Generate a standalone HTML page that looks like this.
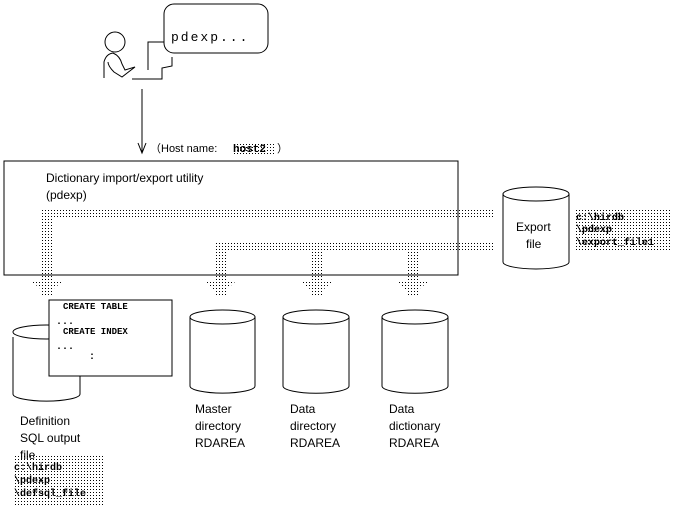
<!DOCTYPE html>
<html><head><meta charset="utf-8"><style>
body{margin:0;background:#fff;width:685px;height:511px;overflow:hidden}
svg{display:block}
text{font-family:"Liberation Sans",sans-serif;font-size:12px;fill:#000}
.m{font-family:"Liberation Mono",monospace;font-size:10px;font-weight:bold}
</style></head><body>
<svg width="685" height="511" viewBox="0 0 685 511">
<defs>
<pattern id="d" width="3" height="3" patternUnits="userSpaceOnUse"><rect width="1" height="1" fill="#000"/></pattern>
</defs>
<g fill="none" stroke="#000" stroke-width="1">
<circle cx="115" cy="42" r="10"/>
<path d="M104 78 V62 Q106 54 113 53 Q120 56 122 64 L125 70 L135 67 L122 77 L114 72 Q108 66 108 62"/>
<path d="M132 79 H162 V68 L172 66 V57"/>
<path d="M148 70 V42 H164"/>
<rect x="164" y="4" width="104" height="49" rx="10"/>
<path d="M142 89 V152 M138 143 L142 153 L146 143"/>
<rect x="4" y="161" width="454" height="114"/>
<path d="M13 337 V394 A33 7 0 0 0 80 394 V337"/><ellipse cx="46.5" cy="332" rx="33.5" ry="7"/>
<rect x="49" y="300" width="123" height="76" fill="#fff"/>
<path d="M190 317 V386 A32 7 0 0 0 255 386 V317"/><ellipse cx="222.5" cy="317" rx="32.5" ry="7"/>
<path d="M283 317 V386 A32 7 0 0 0 349 386 V317"/><ellipse cx="316" cy="317" rx="33" ry="7"/>
<path d="M382 317 V386 A32 7 0 0 0 448 386 V317"/><ellipse cx="415" cy="317" rx="33" ry="7"/>
<path d="M503 194 V262 A33 7 0 0 0 569 262 V194"/><ellipse cx="536" cy="194" rx="33" ry="7"/>
</g>
<g fill="url(#d)">
<rect x="41" y="210" width="454" height="9"/>
<rect x="41" y="219" width="12" height="62"/>
<polygon points="32,282 62,282 52,290 52,296 42,296 42,290"/>
<rect x="214" y="242" width="281" height="9"/>
<rect x="214" y="251" width="12" height="30"/>
<polygon points="205,282 235,282 226,290 226,296 214,296 214,290"/>
<rect x="311" y="251" width="12" height="30"/>
<polygon points="301,282 332,282 323,290 323,296 311,296 311,290"/>
<rect x="406" y="251" width="12" height="30"/>
<polygon points="397,282 428,282 418,290 418,296 406,296 406,290"/>
<rect x="575" y="208" width="96" height="44"/>
<rect x="13" y="455" width="90" height="50"/>
<rect x="232" y="143" width="44" height="13"/>
</g>
<text x="171" y="41" class="m" style="font-size:13px;font-weight:normal;letter-spacing:2px">pdexp...</text>
<text x="150" y="152" style="font-size:11px">（Host name:</text>
<text x="233" y="152" class="m" style="font-size:11px">host2</text>
<text x="277" y="152" style="font-size:11px">）</text>
<text x="46" y="182">Dictionary import/export utility</text>
<text x="46" y="199">(pdexp)</text>
<text x="63" y="309" class="m" style="font-size:9px">CREATE TABLE</text>
<text x="56" y="324" class="m">...</text>
<text x="63" y="334" class="m" style="font-size:9px">CREATE INDEX</text>
<text x="56" y="349" class="m">...</text>
<text x="89" y="359" class="m">:</text>
<text x="516" y="231">Export</text>
<text x="526" y="248">file</text>
<text x="576" y="220" class="m">c:\hirdb</text>
<text x="576" y="232" class="m">\pdexp</text>
<text x="576" y="245" class="m">\export_file1</text>
<text x="20" y="425">Definition</text>
<text x="20" y="442">SQL output</text>
<text x="20" y="459">file</text>
<text x="14" y="470" class="m">c:\hirdb</text>
<text x="14" y="483" class="m">\pdexp</text>
<text x="14" y="496" class="m">\defsql_file</text>
<text x="195" y="413">Master</text><text x="195" y="430">directory</text><text x="195" y="447">RDAREA</text>
<text x="290" y="413">Data</text><text x="290" y="430">directory</text><text x="290" y="447">RDAREA</text>
<text x="389" y="413">Data</text><text x="389" y="430">dictionary</text><text x="389" y="447">RDAREA</text>
</svg>
</body></html>
